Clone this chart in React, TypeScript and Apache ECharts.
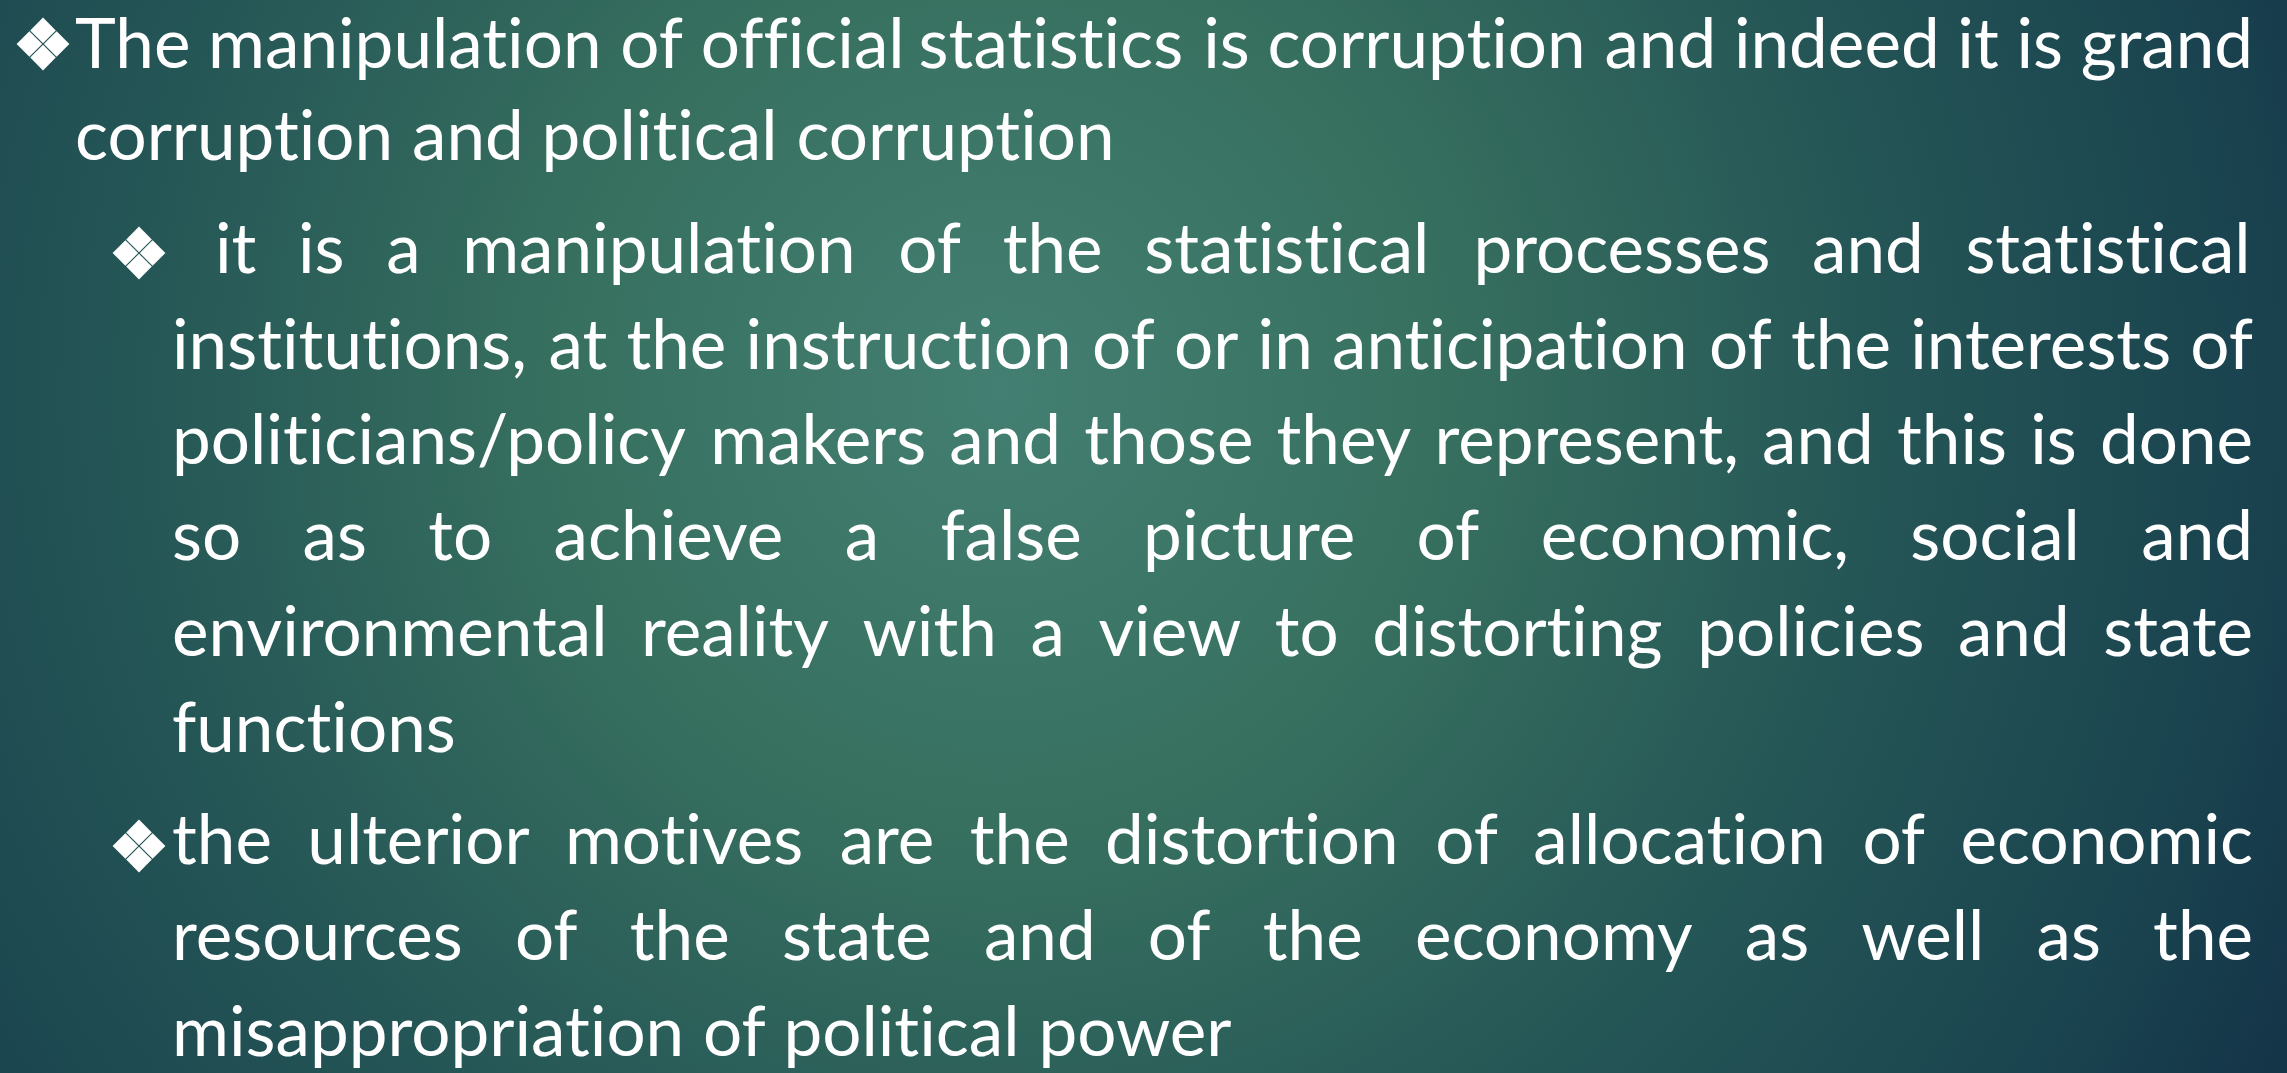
import React, { useEffect, useRef } from "react";
import * as echarts from "echarts";

const W = 2287;
const H = 1073;

// Slide text (one entry per rendered line)
const headingLines = [
  "The manipulation of official statistics is corruption and indeed it is grand",
  "corruption and political corruption",
];
const point1Lines = [
  "it is a manipulation of the statistical processes and statistical",
  "institutions, at the instruction of or in anticipation of the interests of",
  "politicians/policy makers and those they represent, and this is done",
  "so as to achieve a false picture of economic, social and",
  "environmental reality with a view to distorting policies and state",
  "functions",
];
const point2Lines = [
  "the ulterior motives are the distortion of allocation of economic",
  "resources of the state and of the economy as well as the",
  "misappropriation of political power",
];

const FONT = "Lato";
const FS = 69;
const RIGHT = 2253;
const MID = 0.387; // central baseline offset (em)

type Para = {
  lines: string[];
  bullet: [number, number];
  firstX: number;
  x: number;
  base: number;
  step: number;
};

const paras: Para[] = [
  { lines: headingLines, bullet: [43, 44], firstX: 75, x: 75, base: 68, step: 92 },
  { lines: point1Lines, bullet: [139, 253], firstX: 215, x: 172, base: 273, step: 95.8 },
  { lines: point2Lines, bullet: [139, 846], firstX: 172, x: 172, base: 864, step: 96 },
];

function diamondBullet(cx: number, cy: number) {
  const d = 12.8;
  const o = 13.6;
  const centers = [
    [cx, cy - o],
    [cx - o, cy],
    [cx + o, cy],
    [cx, cy + o],
  ];
  return centers.map(([x, y]) => ({
    type: "polygon",
    shape: { points: [[x, y - d], [x + d, y], [x, y + d], [x - d, y]] },
    style: { fill: "#ffffff" },
  }));
}

export default function App() {
  const ref = useRef<HTMLDivElement>(null);
  useEffect(() => {
    document.body.style.margin = "0";
    const el = ref.current!;
    const chart = echarts.init(el, undefined, { renderer: "svg" });
    const ctx = document.createElement("canvas").getContext("2d")!;
    ctx.font = `${FS}px ${FONT}`;
    (ctx as any).fontVariantLigatures = "none";
    const mw = (s: string) => ctx.measureText(s).width;

    // horizontal compression derived from the unjustified (last) lines
    const targets: [string, number][] = [
      [headingLines[1], 1043],
      [point1Lines[5], 277],
      [point2Lines[2], 1065],
    ];
    const k =
      targets.reduce((a, t) => a + t[1], 0) /
      targets.reduce((a, t) => a + mw(t[0]), 0);
    const spaceW = mw(" ") * k;

    const elements: any[] = [
      {
        type: "rect",
        shape: { x: 0, y: 0, width: W, height: H },
        style: {
          fill: {
            type: "radial",
            x: 1000,
            y: 390,
            r: 1450,
            global: true,
            colorStops: [
              { offset: 0, color: "#437f72" },
              { offset: 0.3, color: "#37705f" },
              { offset: 0.6, color: "#255656" },
              { offset: 0.85, color: "#1a444f" },
              { offset: 1, color: "#143448" },
            ],
          },
        },
        silent: true,
      },
    ];

    paras.forEach((p) => {
      elements.push(...diamondBullet(p.bullet[0], p.bullet[1]));
      p.lines.forEach((line, i) => {
        const words = line.split(" ");
        const left = i === 0 ? p.firstX : p.x;
        const widths = words.map((w) => mw(w) * k);
        const total = widths.reduce((a, b) => a + b, 0);
        const last = i === p.lines.length - 1;
        const gap = !last && words.length > 1 ? (RIGHT - left - total) / (words.length - 1) : spaceW;
        const baseline = p.base + i * p.step;
        let x = left;
        words.forEach((w, j) => {
          elements.push({
            type: "text",
            x,
            y: baseline - MID * FS,
            scaleX: k,
            style: {
              text: w,
              x: 0,
              y: 0,
              fill: "#ffffff",
              fontSize: FS,
              fontFamily: FONT,
              lineHeight: FS,
              align: "left",
              verticalAlign: "middle",
            },
          });
          x += widths[j] + gap;
        });
      });
    });

    chart.setOption({ animation: false, graphic: { elements } });
    return () => chart.dispose();
  }, []);
  return (
    <>
      <style>{"svg text { font-variant-ligatures: none; font-feature-settings: 'liga' 0, 'clig' 0; }"}</style>
      <div ref={ref} style={{ width: W, height: H }} />
    </>
  );
}
